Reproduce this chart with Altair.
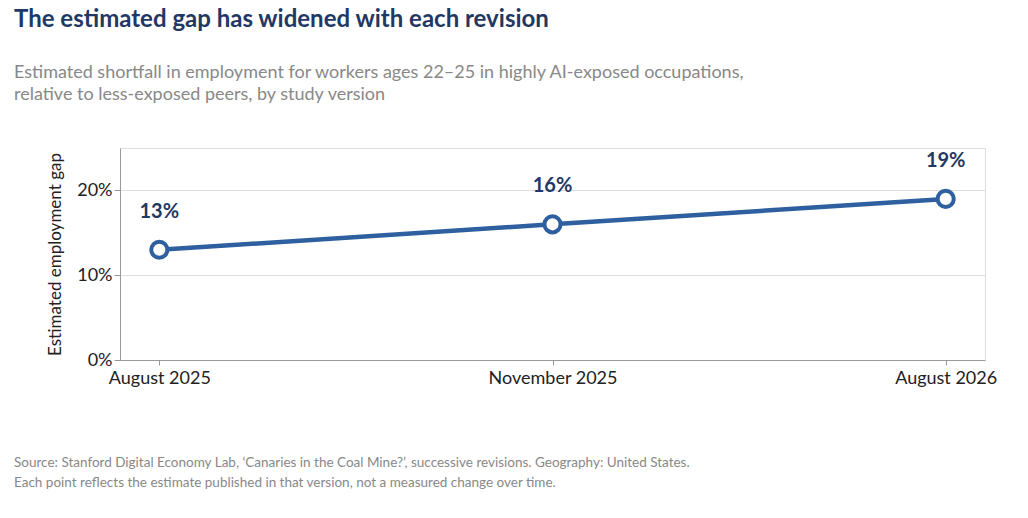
import altair as alt
import pandas as pd

versions = ["August 2025", "November 2025", "August 2026"]
gaps = [13, 16, 19]
labels = ["13%", "16%", "19%"]
footer_lines = [
    "Source: Stanford Digital Economy Lab, ‘Canaries in the Coal Mine?’, successive revisions. Geography: United States.",
    "Each point reflects the estimate published in that version, not a measured change over time.",
]

df = pd.DataFrame({"version": versions, "gap": gaps, "label": labels})

FONT = "Lato"
BLUE = "#2e5f9e"
DARK = "#1f3864"

x = alt.X("version:O", sort=versions, scale=alt.Scale(type="point", padding=0.1),
          axis=alt.Axis(title=None, labelAngle=0, labelFontSize=18, labelColor="#222",
                        domainColor="#999", tickColor="#999", tickSize=5, labelPadding=4))
y = alt.Y("gap:Q", scale=alt.Scale(domain=[0, 25]),
          axis=alt.Axis(values=[0, 10, 20], labelExpr="datum.value + '%'",
                        title="Estimated employment gap", titleFontSize=17, titleFontWeight="normal",
                        titleColor="#222", labelFontSize=18, labelColor="#222",
                        domainColor="#999", tickColor="#999", tickSize=6, grid=True,
                        gridColor="#dddddd", titlePadding=12))

base = alt.Chart(df).encode(x=x, y=y)
line = base.mark_line(color=BLUE, strokeWidth=4.5)
pts = base.mark_point(shape="circle", size=260, filled=True, fill="white", stroke=BLUE,
                      strokeWidth=4, opacity=1)
txt = base.mark_text(dy=-38, font=FONT, fontSize=20, fontWeight="bold", color=DARK).encode(text="label")

feet = []
for i, t in enumerate(footer_lines):
    feet.append(alt.Chart(pd.DataFrame({"line": [t]})).mark_text(
        align="left", baseline="middle", font=FONT, fontSize=13.5, color="#888").encode(
        x=alt.value(-106), y=alt.value(315 + 20 * i), text="line"))

chart = alt.layer(line, pts, txt, *feet).properties(
    width=865, height=212,
    padding={"left": 6, "top": 0, "right": 10, "bottom": 5},
    title=alt.TitleParams(
        text="The estimated gap has widened with each revision",
        subtitle=["Estimated shortfall in employment for workers ages 22–25 in highly AI-exposed occupations,",
                  "relative to less-exposed peers, by study version"],
        anchor="start", frame="bounds", font=FONT, fontSize=24, fontWeight="bold", color=DARK,
        subtitleFont=FONT, subtitleFontSize=18, subtitleColor="#888", subtitlePadding=32,
        subtitleLineHeight=22, offset=44),
).configure_view(stroke=None).configure(font=FONT)

chart.save("out.html", embed_options={"renderer": "svg", "actions": False})
